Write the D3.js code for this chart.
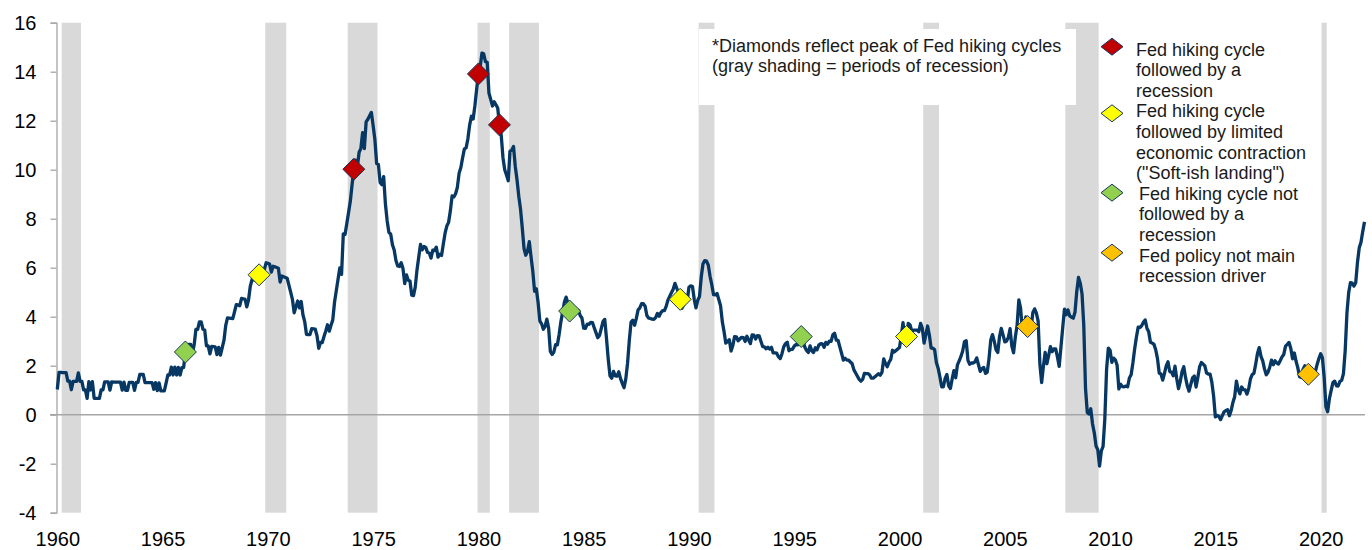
<!DOCTYPE html>
<html><head><meta charset="utf-8">
<script src="https://cdn.jsdelivr.net/npm/d3@7"></script>
<style>
body{margin:0;background:#fff;}
svg{display:block;font-family:"Liberation Sans",Arial,sans-serif;}
</style>
</head><body>
<svg id="chart" width="1372" height="550"></svg>
<script>
// ---------------- DATA ----------------
// Monthly CPI year-over-year % change, starting January 1960
const cpi1960s = [
 1.03,1.73,1.73,1.72,1.72,1.72,1.37,1.37,1.02,1.36,1.36,1.36,
 1.71,1.36,1.36,1.01,1.01,0.67,1.35,1.01,1.35,0.67,0.67,0.67,
 0.67,1.01,1.01,1.34,1.34,1.34,1.00,1.34,1.33,1.33,1.33,1.33,
 1.33,1.00,1.33,0.99,0.99,1.32,1.32,1.32,0.99,1.32,1.32,1.64,
 1.64,1.64,1.31,1.31,1.31,1.31,1.31,1.04,1.31,0.98,1.30,0.97,
 0.97,0.97,1.29,1.62,1.62,1.94,1.62,1.94,1.62,1.93,1.62,1.92,
 1.92,2.56,2.56,2.87,2.87,2.53,2.85,3.48,3.48,3.79,3.79,3.49,
 3.46,2.81,2.81,2.48,2.79,2.78,2.77,2.45,2.75,2.43,2.74,3.04,
 3.65,3.95,3.94,3.93,3.92,4.20,4.49,4.48,4.45,4.75,4.73,4.72,
 4.40,4.69,5.25,5.52,5.51,5.48,5.44,5.71,5.70,5.67,5.93,6.20];
const cpi1970s = [
 6.18,6.15,5.82,6.06,6.04,6.01,5.98,5.41,5.66,5.63,5.60,5.57,
 5.29,5.00,4.71,4.16,4.40,4.64,4.36,4.62,4.08,3.80,3.28,3.27,
 3.27,3.51,3.50,3.49,3.23,2.71,2.95,2.94,3.19,3.42,3.67,3.41,
 3.65,3.87,4.59,5.06,5.53,5.99,5.73,7.38,7.36,7.80,8.25,8.71,
 9.39,10.02,10.39,10.09,10.71,10.86,11.51,10.86,11.95,12.06,12.20,12.34,
 11.80,11.23,10.25,10.21,9.47,9.39,9.72,8.60,7.91,7.44,7.38,6.94,
 6.72,6.29,6.07,6.05,6.20,5.97,5.35,5.71,5.49,5.46,4.88,4.86,
 5.21,5.91,6.44,6.95,6.73,6.87,6.83,6.62,6.60,6.39,6.72,6.70,
 6.84,6.43,6.55,6.50,6.97,7.41,7.70,7.85,8.31,8.93,8.89,9.02,
 9.28,9.86,10.09,10.49,10.85,10.89,11.26,11.82,12.18,12.07,12.61,13.29];
const cpi1980s = [
 13.91,14.18,14.76,14.73,14.41,14.38,13.13,12.87,12.60,12.77,12.65,12.52,
 11.83,11.41,10.49,10.00,9.78,9.55,10.76,10.80,10.95,10.14,9.59,8.92,
 8.39,7.62,6.78,6.51,6.68,7.06,6.44,5.85,5.04,5.14,4.59,3.83,
 3.71,3.49,3.60,3.90,3.55,2.58,2.46,2.56,2.86,2.85,3.27,3.79,
 4.19,4.60,4.80,4.56,4.23,4.22,4.20,4.29,4.27,4.26,4.05,3.95,
 3.53,3.52,3.70,3.69,3.77,3.76,3.55,3.35,3.14,3.23,3.51,3.80,
 3.89,3.11,2.26,1.59,1.49,1.77,1.58,1.57,1.75,1.47,1.28,1.10,
 1.46,2.10,3.03,3.78,3.86,3.65,3.93,4.28,4.36,4.53,4.53,4.43,
 4.05,3.94,3.93,3.90,3.89,3.96,4.13,4.02,4.17,4.25,4.25,4.42,
 4.67,4.83,4.98,5.12,5.36,5.17,4.98,4.71,4.34,4.49,4.66,4.65];
const cpi1990s = [
 5.20,5.26,5.23,4.71,4.36,4.67,4.82,5.62,6.16,6.29,6.27,6.11,
 5.65,5.31,4.90,4.89,4.95,4.70,4.45,3.80,3.39,2.92,2.99,3.06,
 2.60,2.82,3.19,3.18,3.02,3.09,3.16,3.15,2.99,3.20,3.05,2.90,
 3.26,3.25,3.09,3.23,3.22,3.00,2.78,2.77,2.69,2.75,2.68,2.75,
 2.52,2.52,2.51,2.36,2.29,2.49,2.77,2.90,2.96,2.61,2.67,2.67,
 2.80,2.86,2.85,3.05,3.19,3.04,2.76,2.62,2.54,2.81,2.61,2.54,
 2.73,2.65,2.84,2.90,2.89,2.75,2.95,2.88,3.00,2.99,3.26,3.32,
 3.04,3.03,2.76,2.50,2.23,2.30,2.23,2.23,2.15,2.08,1.83,1.70,
 1.57,1.44,1.37,1.44,1.69,1.68,1.68,1.62,1.49,1.49,1.55,1.61,
 1.67,1.61,1.73,2.28,2.09,1.96,2.14,2.26,2.63,2.56,2.62,2.68];
const cpi2000s = [
 2.74,3.22,3.76,3.07,3.19,3.73,3.66,3.41,3.45,3.45,3.45,3.39,
 3.73,3.53,2.92,3.27,3.62,3.25,2.72,2.72,2.65,2.13,1.90,1.55,
 1.14,1.14,1.48,1.64,1.18,1.07,1.46,1.80,1.51,2.03,2.20,2.38,
 2.60,2.98,3.02,2.22,2.06,2.11,2.11,2.16,2.32,2.04,1.77,1.88,
 1.93,1.69,1.74,2.29,3.05,3.27,2.99,2.65,2.54,3.19,3.52,3.26,
 2.97,3.01,3.15,3.51,2.80,2.53,3.17,3.64,4.69,4.35,3.46,3.42,
 3.99,3.60,3.36,3.55,4.17,4.32,4.15,3.82,2.06,1.31,1.97,2.54,
 2.08,2.42,2.78,2.57,2.69,2.69,2.36,1.97,2.76,3.54,4.31,4.08,
 4.28,4.03,3.98,3.94,4.18,5.02,5.60,5.37,4.94,3.66,1.07,0.09,
 0.03,0.24,-0.38,-0.74,-1.28,-1.43,-2.10,-1.48,-1.29,-0.18,1.84,2.72];
const cpi2010s = [
 2.63,2.14,2.31,2.24,2.02,1.05,1.24,1.15,1.14,1.17,1.14,1.50,
 1.63,2.11,2.68,3.16,3.57,3.56,3.63,3.77,3.87,3.53,3.39,2.96,
 2.93,2.87,2.65,2.30,1.70,1.66,1.41,1.69,1.99,2.16,1.76,1.74,
 1.59,1.98,1.47,1.06,1.36,1.75,1.96,1.52,1.18,0.96,1.24,1.50,
 1.58,1.13,1.51,1.95,2.13,2.07,1.99,1.70,1.66,1.66,1.32,0.76,
 -0.09,-0.03,-0.07,-0.20,-0.04,0.12,0.17,0.20,-0.04,0.17,0.50,0.73,
 1.37,1.02,0.85,1.13,1.02,1.01,0.84,1.06,1.46,1.64,1.69,2.07,
 2.50,2.74,2.38,2.20,1.87,1.63,1.73,1.94,2.23,2.04,2.20,2.11,
 2.07,2.21,2.36,2.46,2.80,2.87,2.95,2.70,2.28,2.52,2.18,1.91,
 1.55,1.52,1.86,2.00,1.79,1.65,1.81,1.75,1.71,1.76,2.05,2.29];
const cpi2020s = [
 2.49,2.33,1.54,0.33,0.12,0.65,0.99,1.31,1.37,1.18,1.17,1.36,
 1.40,1.68,2.62,4.16,4.99,5.39,5.37,5.25,5.39,6.22,6.81,7.04,
 7.48,7.87];

// NBER recessions (start month, end month)
const recessionStarts = ["1960-04","1969-12","1973-11","1980-01","1981-07","1990-07","2001-03","2007-12","2020-02"];
const recessionEnds   = ["1961-02","1970-11","1975-03","1980-07","1982-11","1991-03","2001-11","2009-06","2020-04"];

// Peaks of Fed hiking cycles
const markerDates  = ["1966-02","1969-08","1974-02","1980-01","1981-01","1984-05","1989-08","1995-05","2000-05","2006-02","2019-06"];
const markerValues = [2.56,5.71,10.02,13.91,11.83,4.23,4.71,3.19,3.19,3.60,1.65];
const markerTypes  = ["none","soft","recession","recession","recession","none","soft","none","soft","policy","policy"];

const legendTypes  = ["recession","soft","none","policy"];
const legendColors = ["#c00000","#ffff00","#92d050","#ffc000"];
const legendLabels = [
 ["Fed hiking cycle","followed by a","recession"],
 ["Fed hiking cycle","followed by limited","economic contraction","(\"Soft-ish landing\")"],
 ["Fed hiking cycle not","followed by a","recession"],
 ["Fed policy not main","recession driver"]];

const noteLines = ["*Diamonds reflect peak of Fed hiking cycles","(gray shading = periods of recession)"];
const yTicks = [-4,-2,0,2,4,6,8,10,12,14,16];
const xTickYears = [1960,1965,1970,1975,1980,1985,1990,1995,2000,2005,2010,2015,2020];

// ---------------- CHART ----------------
const svg = d3.select("#chart");
const toYear = s => { const [y,m] = s.split("-").map(Number); return y + (m-1)/12; };
const series = [].concat(cpi1960s,cpi1970s,cpi1980s,cpi1990s,cpi2000s,cpi2010s,cpi2020s)
  .map((v,i) => ({t: 1960 + i/12, v}));

const x = d3.scaleLinear().domain([1960, 1960 + (series.length-1)/12]).range([57.3, 1364.5]);
const y = d3.scaleLinear().domain([-4, 16]).range([512.7, 22.7]);
const colorOf = d3.scaleOrdinal().domain(legendTypes).range(legendColors);

// recession shading
svg.append("g").selectAll("rect").data(recessionStarts.map((s,i)=>({s:toYear(s), e:toYear(recessionEnds[i])})))
  .join("rect")
  .attr("x", d => x(d.s - 1/24))
  .attr("width", d => x(d.e + 1/24) - x(d.s - 1/24))
  .attr("y", y(16)).attr("height", y(-4) - y(16))
  .attr("fill", "#d9d9d9");

// annotation box
svg.append("rect").attr("x", 699).attr("y", 29).attr("width", 377).attr("height", 76).attr("fill", "#fff");
svg.append("g").selectAll("text").data(noteLines).join("text")
  .attr("x", 712).attr("y", (d,i) => 51.5 + i*20.6)
  .attr("font-size", 18).attr("fill", "#1a1a1a").text(d => d);

// y axis
const yAxis = svg.append("g").attr("transform", "translate(56.5,0)")
  .call(d3.axisLeft(y).tickValues(yTicks).tickFormat(d => String(d)).tickSize(6).tickPadding(14));
yAxis.select(".domain").attr("stroke", "#a6a6a6").attr("stroke-width", 1.3);
yAxis.selectAll(".tick line").attr("stroke", "#a6a6a6").attr("stroke-width", 1.3);
yAxis.selectAll("text").attr("font-size", 20).attr("fill", "#000").attr("font-family", "Liberation Sans, Arial, sans-serif");

// zero line
svg.append("line").attr("x1", 50).attr("x2", 1365).attr("y1", y(0)).attr("y2", y(0))
  .attr("stroke", "#a6a6a6").attr("stroke-width", 1.6);

// x axis labels
const xAxis = svg.append("g").attr("transform", "translate(0,532)")
  .call(d3.axisBottom(x).tickValues(xTickYears).tickFormat(d => String(d)).tickSize(0).tickPadding(0));
xAxis.select(".domain").remove();
xAxis.selectAll("text").attr("font-size", 20).attr("fill", "#000").attr("dy", "0.71em")
  .attr("font-family", "Liberation Sans, Arial, sans-serif");

// line
svg.append("path").datum(series)
  .attr("d", d3.line().x(d => x(d.t)).y(d => y(d.v)))
  .attr("fill", "none").attr("stroke", "#073763").attr("stroke-width", 3.3).attr("stroke-linejoin", "round");

// markers
const diamond = (w,h) => `M0,${-h}L${w},0L0,${h}L${-w},0Z`;
svg.append("g").selectAll("path").data(markerDates.map((d,i)=>({t:toYear(d), v:markerValues[i], k:markerTypes[i]})))
  .join("path")
  .attr("transform", d => `translate(${x(d.t)},${y(d.v)})`)
  .attr("d", diamond(11,11))
  .attr("fill", d => colorOf(d.k)).attr("stroke", "#17375e").attr("stroke-width", 1);

// legend
const legendY = [46.7, 113.3, 192.7, 252.7];
const legendTextX = [1136, 1136, 1139, 1139];
const legendBase = [55.5, 117.3, 199.7, 261.5];
const lg = svg.append("g");
legendTypes.forEach((k,i) => {
  lg.append("path").attr("transform", `translate(1112,${legendY[i]})`).attr("d", diamond(11,8.5))
    .attr("fill", colorOf(k)).attr("stroke", "#17375e").attr("stroke-width", 1);
  lg.append("g").selectAll("text").data(legendLabels[i]).join("text")
    .attr("x", legendTextX[i]).attr("y", (d,j) => legendBase[i] + j*20.6)
    .attr("font-size", 18).attr("fill", "#1a1a1a").text(d => d);
});
</script>
</body></html>
